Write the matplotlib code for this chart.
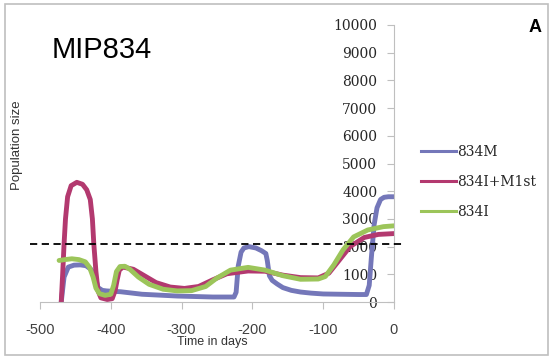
import matplotlib
matplotlib.use("Agg")
import matplotlib.pyplot as plt
from matplotlib.lines import Line2D

plt.rcParams["axes.unicode_minus"] = False

# 834M
days_m = [-470, -466, -460, -452, -443, -435, -428, -422, -418, -412, -406, -386,
          -356, -306, -256, -226, -223, -220, -216, -212, -205, -195, -187, -181,
          -179, -176, -172, -165, -157, -145, -132, -117, -100, -76, -50, -39,
          -35, -32, -28, -24, -19, -14, -8, 0]
vals_m = [0, 900, 1260, 1330, 1340, 1310, 1180, 900, 520, 420, 400, 370,
          280, 215, 180, 180, 350, 1300, 1800, 1950, 2000, 1950, 1850, 1750,
          1500, 950, 780, 650, 520, 420, 360, 320, 290, 280, 270, 270,
          600, 1600, 2800, 3400, 3700, 3780, 3800, 3800]

# 834I+M1st
days_p = [-470, -468, -466, -464, -461, -456, -448, -440, -434, -429, -426, -424,
          -421, -418, -414, -405, -398, -394, -391, -388, -383, -375, -368, -356,
          -336, -316, -296, -276, -256, -236, -206, -182, -157, -132, -107, -92,
          -77, -62, -42, -22, 0]
vals_p = [0, 1000, 2100, 3000, 3800, 4200, 4320, 4250, 4050, 3700, 3000, 2100,
          1100, 400, 150, 90, 120, 400, 800, 1150, 1260, 1220, 1180, 1000,
          700, 540, 490, 560, 800, 1020, 1120, 1110, 970, 880, 870, 1040,
          1520, 2000, 2330, 2440, 2470]

# 834I
days_g = [-473, -465, -455, -445, -436, -430, -425, -421, -416, -408, -400, -396,
          -392, -387, -380, -373, -361, -346, -326, -306, -286, -266, -251, -231,
          -206, -182, -157, -132, -107, -97, -85, -72, -57, -37, -15, 0]
vals_g = [1500, 1530, 1560, 1530, 1450, 1250, 900, 500, 300, 240, 280, 600,
          1100, 1280, 1290, 1180, 900, 640, 460, 400, 410, 560, 850, 1150,
          1250, 1150, 950, 820, 830, 920, 1340, 1880, 2350, 2600, 2720, 2750]

threshold = 2080
series_names = ["834M", "834I+M1st", "834I"]
colors = ["#7477B9", "#B3396F", "#9CC55A"]

fig = plt.figure(figsize=(5.54, 3.58), dpi=100)
ax = fig.add_axes([40/554, 1-302/358, 354/554, 277/358])

lw = 3.5
ax.plot(days_m, vals_m, color=colors[0], lw=lw, solid_joinstyle="round", solid_capstyle="round")
ax.plot(days_p, vals_p, color=colors[1], lw=lw, solid_joinstyle="round", solid_capstyle="round")
ax.plot(days_g, vals_g, color=colors[2], lw=lw, solid_joinstyle="round", solid_capstyle="round")
ax.plot([-514, 13], [threshold, threshold], color="black", lw=1.3,
        ls=(0, (4, 2.5)), clip_on=False, zorder=5)

ax.set_xlim(-500, 0)
ax.set_ylim(0, 10000)
ax.set_xticks(range(-500, 1, 100))
ax.set_yticks(range(0, 10001, 1000))

for s in ["top", "right"]:
    ax.spines[s].set_visible(False)
ax.spines["left"].set_position(("data", 0))
ax.spines["left"].set_color("#BFBFBF")
ax.spines["bottom"].set_color("#BFBFBF")
ax.tick_params(axis="x", color="#BFBFBF", length=5, pad=10, labelsize=10.5)
ax.tick_params(axis="y", color="#BFBFBF", length=5, pad=7, labelsize=10)
for lab in ax.get_xticklabels():
    lab.set_family("Liberation Sans")
    lab.set_color("#404040")
for lab in ax.get_yticklabels():
    lab.set_family("DejaVu Serif")
    lab.set_color("#262626")
ax.patch.set_visible(False)

fig.text(17/554, 1-145/358, "Population size", rotation=90, ha="center", va="center",
         family="Liberation Sans", fontsize=9.5, color="#333333")
fig.text(212/554, 1-342/358, "Time in days", ha="center", va="center",
         family="Liberation Sans", fontsize=9, color="#333333")
fig.text(52/554, 1-50/358, "MIP834", ha="left", va="center",
         family="Liberation Sans", fontsize=21, color="black")
fig.text(535/554, 1-27/358, "A", ha="center", va="center",
         family="Liberation Sans", fontsize=13, fontweight="bold", color="black")

handles = [Line2D([], [], color=c, lw=2.2) for c in colors]
leg = fig.legend(handles, series_names, loc="upper left",
                 bbox_to_anchor=(421/554, 1-145/358), frameon=False,
                 handlelength=2.5, handletextpad=0.1, labelspacing=1.15,
                 borderpad=0, borderaxespad=0,
                 prop={"family": "DejaVu Serif", "size": 10})
for t in leg.get_texts():
    t.set_color("#262626")

border = plt.Rectangle((5/554, 3/358), 543/554, 351/358, transform=fig.transFigure,
                       fill=False, edgecolor="#BFBFBF", lw=1.2)
fig.patches.append(border)

fig.savefig("out.png", dpi=100)
